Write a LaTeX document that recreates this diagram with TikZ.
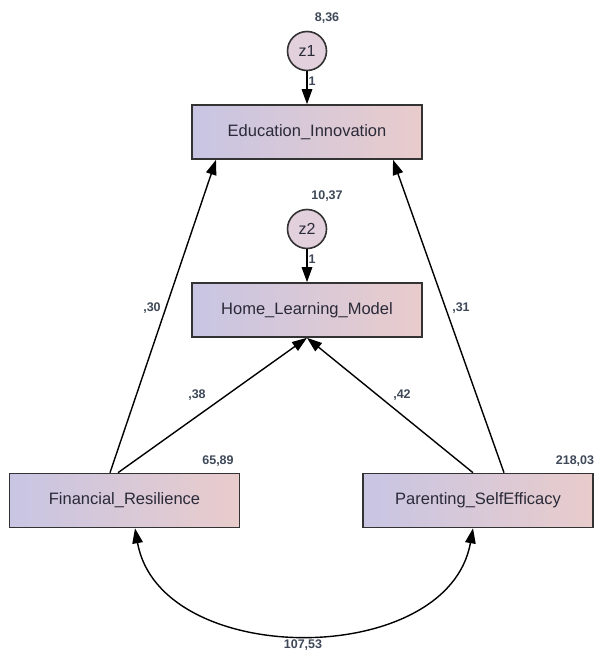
\documentclass[tikz,border=0pt]{standalone}
\usepackage{fontspec}
\setmainfont{Liberation Sans}
\usetikzlibrary{arrows.meta}
\definecolor{boxleft}{HTML}{C8C5E3}
\definecolor{boxright}{HTML}{E9CCCC}
\definecolor{errfill}{HTML}{E2D0DC}
\definecolor{numcol}{HTML}{3E4858}
\definecolor{txtcol}{HTML}{2A2A38}
\tikzset{var/.style={draw=black!80, line width=1.6pt, rectangle, left color=boxleft, right color=boxright,
    minimum width=230pt, minimum height=54pt, inner sep=0pt, text=txtcol, font=\fontsize{16.5}{18}\selectfont}}
\tikzset{err/.style={draw=black!80, line width=1.6pt, circle, fill=errfill, minimum size=39pt, inner sep=0pt,
    text=txtcol, font=\fontsize{16}{18}\selectfont}}
\tikzset{num/.style={text=numcol, inner sep=0pt, font=\fontsize{12.5}{14}\selectfont\bfseries}}
\tikzset{path/.style={line width=1.4pt, -{Triangle[length=15pt,width=10.5pt]}}}

\begin{document}
\begin{tikzpicture}[x=1pt, y=-1pt]
\useasboundingbox (0,0) rectangle (595,652);
% variables
\node[var] (ei)  at (307,132)   {Education\_Innovation};
\node[var] (hlm) at (307,310)   {Home\_Learning\_Model};
\node[var] (fr)  at (124.5,500.5) {Financial\_Resilience};
\node[var] (ps)  at (478,500.5) {Parenting\_SelfEfficacy};
\node[err] (z1)  at (307,51)    {z1};
\node[err] (z2)  at (307,229)   {z2};
% variances
\node[num] (vz1) at (327,18)  {8,36};
\node[num] (vz2) at (327,196) {10,37};
\node[num] (vfr) at (218,461) {65,89};
\node[num] (vps) at (575,461) {218,03};
% paths
\draw[path] (z1) -- (ei) node[num, pos=0.3, right=1pt] (w1) {1};
\draw[path] (z2) -- (hlm) node[num, pos=0.3, right=1pt] (w2) {1};
\draw[path] ([xshift=-14.5pt]fr.north) -- ([xshift=-91pt]ei.south);
\draw[path] ([xshift=-6.5pt]fr.north) -- (hlm.south);
\draw[path] ([xshift=-5pt]ps.north) -- (hlm.south);
\draw[path] ([xshift=26pt]ps.north) -- ([xshift=86pt]ei.south);
\node[num] (b30) at (152,308) {,30};
\node[num] (b38) at (197,395) {,38};
\node[num] (b31) at (461,308) {,31};
\node[num] (b42) at (402,395) {,42};
% covariance
\draw[line width=1.4pt, {Triangle[length=15pt,width=10.5pt]}-{Triangle[length=15pt,width=10.5pt]}]
  ([xshift=10.5pt]fr.south) .. controls +(25,141) and +(-25,141) .. ([xshift=-5pt]ps.south);
\node[num] (cov) at (303,645) {107,53};
\end{tikzpicture}
\end{document}
